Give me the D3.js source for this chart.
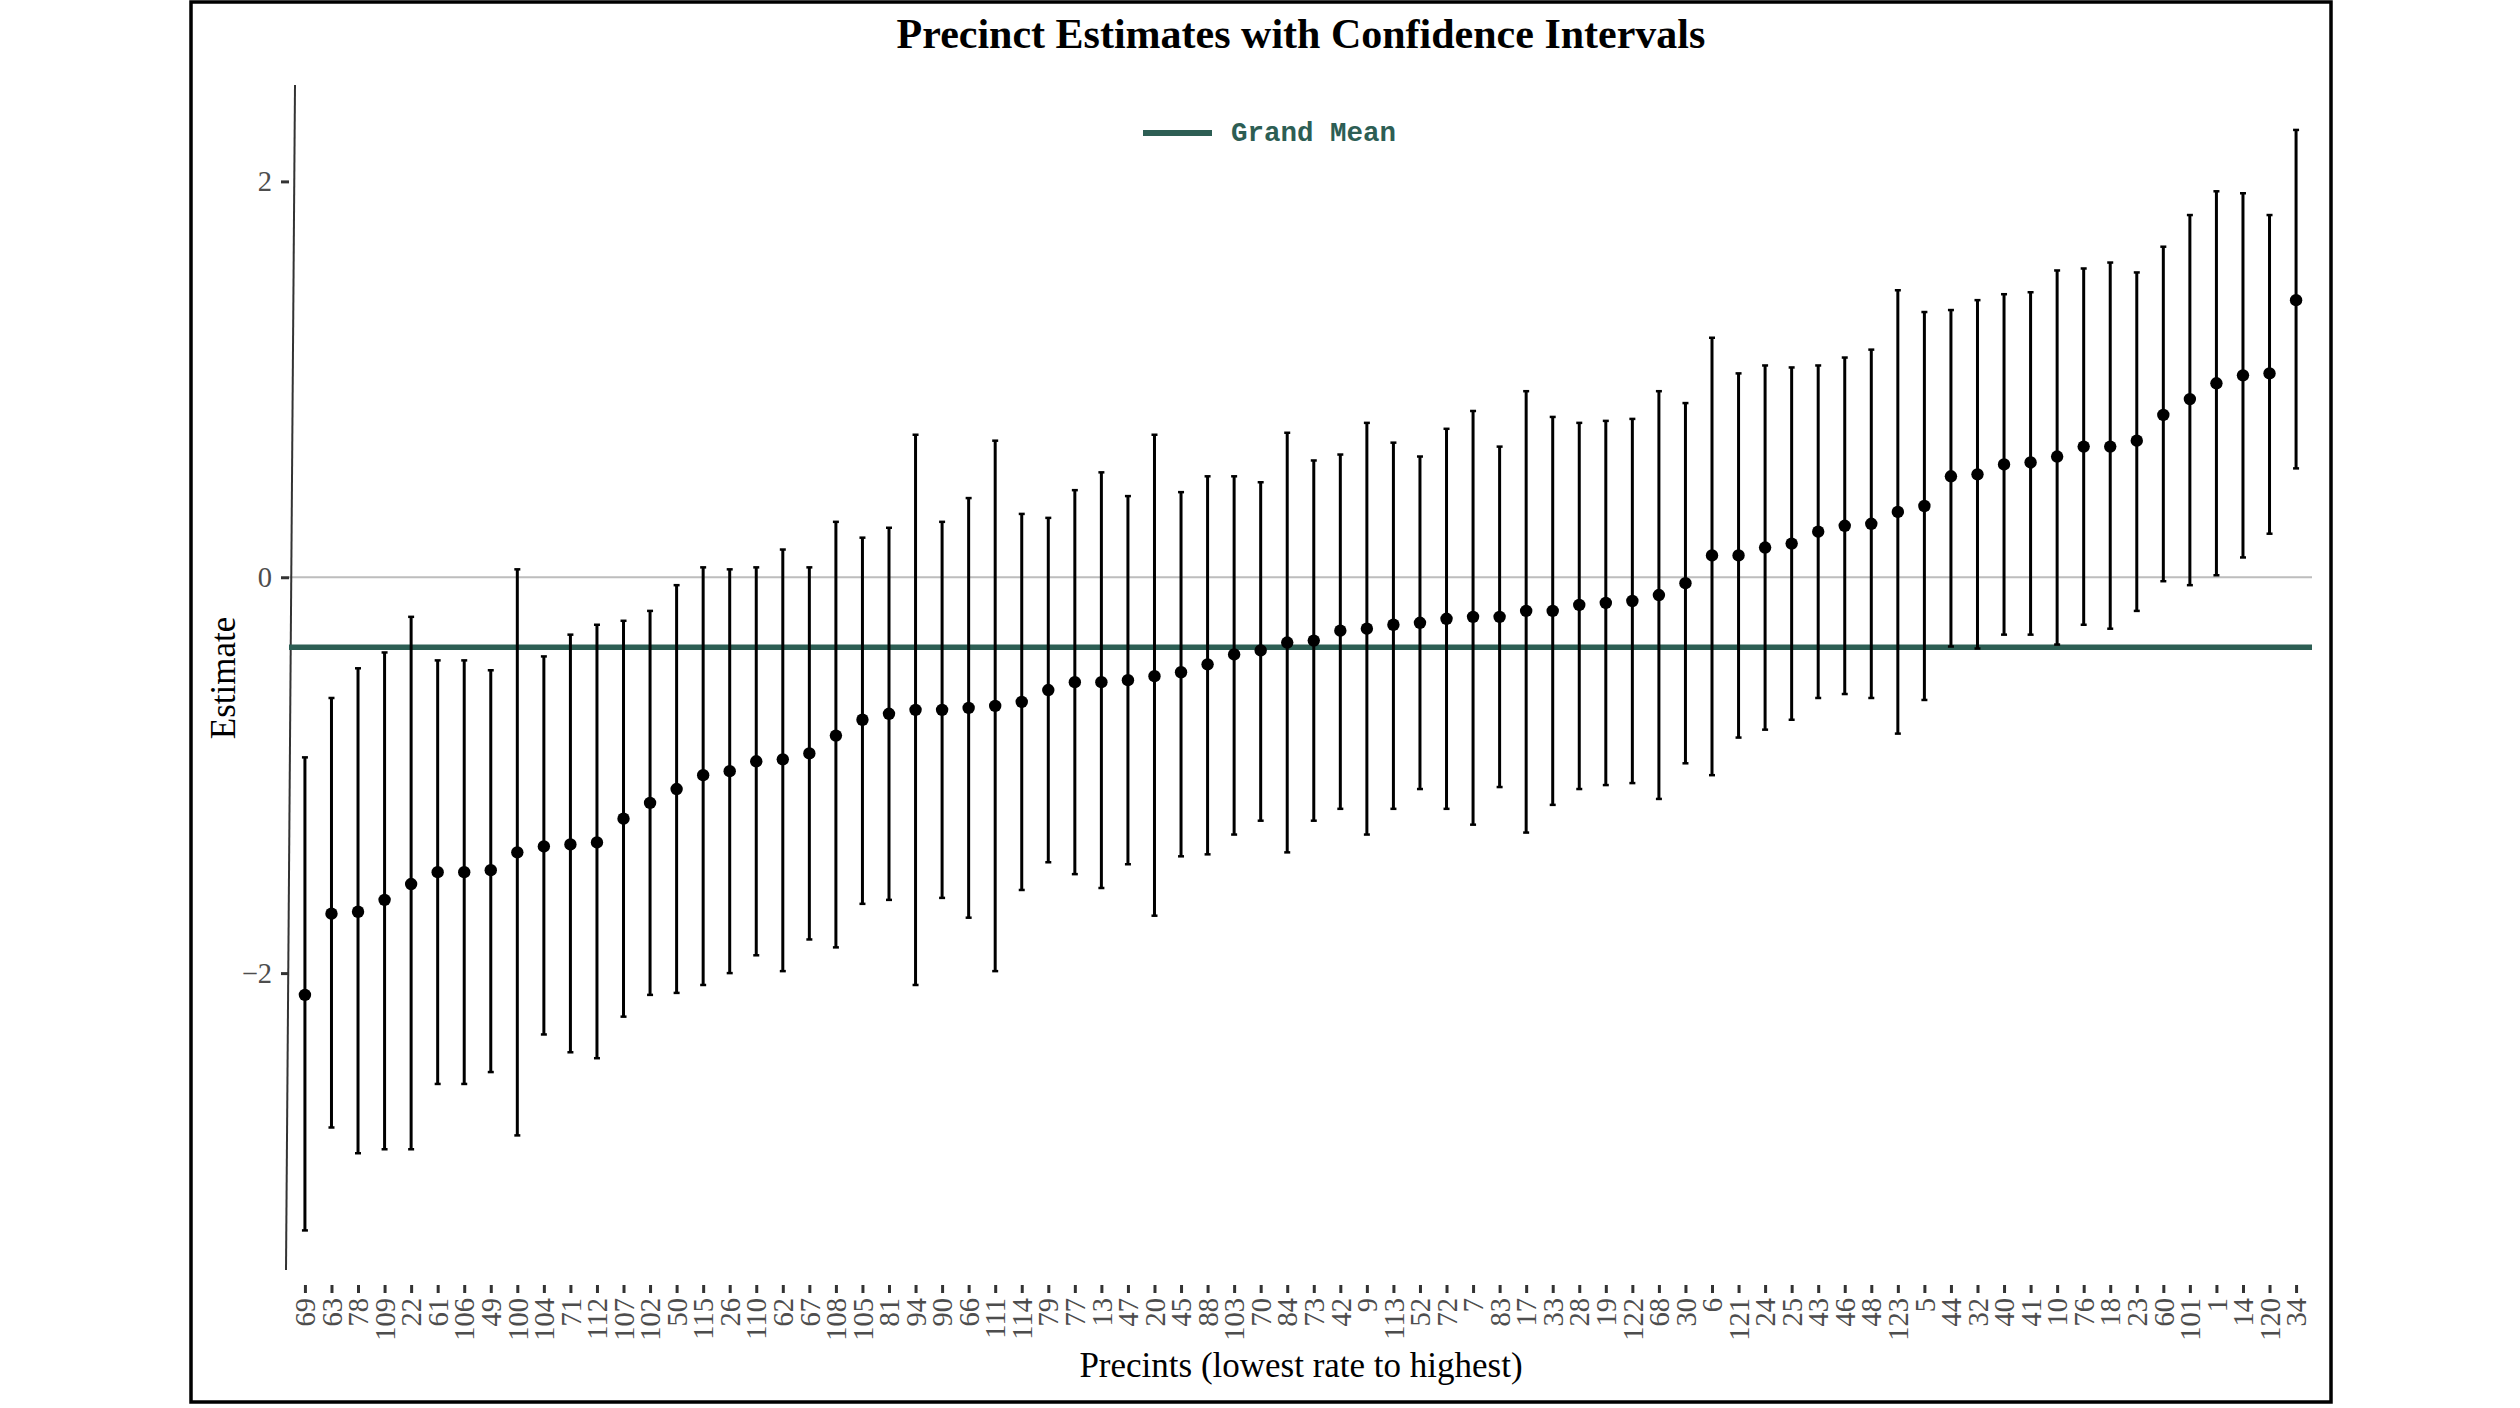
<!DOCTYPE html>
<html>
<head>
<meta charset="utf-8">
<script src="https://cdn.jsdelivr.net/npm/d3@7"></script>
<style>
  body { margin: 0; background: #fff; }
  text { font-family: "Liberation Serif", "Times New Roman", serif; }
</style>
</head>
<body>
<svg id="chart" width="2520" height="1408"></svg>
<script>
// precincts ordered from lowest estimate to highest
var precincts = ["69","63","78","109","22","61","106","49","100","104","71","112","107","102","50","115","26","110","62","67",
  "108","105","81","94","90","66","111","114","79","77","13","47","20","45","88","103","70","84","73","42",
  "9","113","52","72","7","83","17","33","28","19","122","68","30","6","121","24","25","43","46","48",
  "123","5","44","32","40","41","10","76","18","23","60","101","1","14","120","34"];

var estimates = [-2.11,-1.70,-1.69,-1.63,-1.55,-1.49,-1.49,-1.48,-1.39,-1.36,-1.35,-1.34,-1.22,-1.14,-1.07,-1.00,-0.98,-0.93,-0.92,-0.89,
  -0.80,-0.72,-0.69,-0.67,-0.67,-0.66,-0.65,-0.63,-0.57,-0.53,-0.53,-0.52,-0.50,-0.48,-0.44,-0.39,-0.37,-0.33,-0.32,-0.27,
  -0.26,-0.24,-0.23,-0.21,-0.20,-0.20,-0.17,-0.17,-0.14,-0.13,-0.12,-0.09,-0.03,0.11,0.11,0.15,0.17,0.23,0.26,0.27,
  0.33,0.36,0.51,0.52,0.57,0.58,0.61,0.66,0.66,0.69,0.82,0.90,0.98,1.02,1.03,1.40];

var upper = [-0.91,-0.61,-0.46,-0.38,-0.20,-0.42,-0.42,-0.47,0.04,-0.40,-0.29,-0.24,-0.22,-0.17,-0.04,0.05,0.04,0.05,0.14,0.05,
  0.28,0.20,0.25,0.72,0.28,0.40,0.69,0.32,0.30,0.44,0.53,0.41,0.72,0.43,0.51,0.51,0.48,0.73,0.59,0.62,
  0.78,0.68,0.61,0.75,0.84,0.66,0.94,0.81,0.78,0.79,0.80,0.94,0.88,1.21,1.03,1.07,1.06,1.07,1.11,1.15,
  1.45,1.34,1.35,1.40,1.43,1.44,1.55,1.56,1.59,1.54,1.67,1.83,1.95,1.94,1.83,2.26];

var lower = [-3.30,-2.78,-2.91,-2.89,-2.89,-2.56,-2.56,-2.50,-2.82,-2.31,-2.40,-2.43,-2.22,-2.11,-2.10,-2.06,-2.00,-1.91,-1.99,-1.83,
  -1.87,-1.65,-1.63,-2.06,-1.62,-1.72,-1.99,-1.58,-1.44,-1.50,-1.57,-1.45,-1.71,-1.41,-1.40,-1.30,-1.23,-1.39,-1.23,-1.17,
  -1.30,-1.17,-1.07,-1.17,-1.25,-1.06,-1.29,-1.15,-1.07,-1.05,-1.04,-1.12,-0.94,-1.00,-0.81,-0.77,-0.72,-0.61,-0.59,-0.61,
  -0.79,-0.62,-0.35,-0.36,-0.29,-0.29,-0.34,-0.24,-0.26,-0.17,-0.02,-0.04,0.01,0.10,0.22,0.55];

var yTicks = [-2, 0, 2];
var grandMean = -0.354;

var svg = d3.select("#chart");
var green = "#2d5e54";
var panel = { left: 289, right: 2312, top: 85, bottom: 1270 };

var rows = precincts.map(function(p, i) {
  return { name: p, est: estimates[i], lo: lower[i], hi: upper[i] };
});

var x = d3.scalePoint()
  .domain(precincts)
  .range([panel.left, panel.right])
  .padding(0.6);

var y = d3.scaleLinear()
  .domain([-3.5, 2.487])
  .range([panel.bottom, panel.top]);

svg.append("rect")
  .attr("width", 2520).attr("height", 1408)
  .attr("fill", "#fff");

// outer frame
svg.append("rect")
  .attr("x", 191).attr("y", 2)
  .attr("width", 2140).attr("height", 1400)
  .attr("fill", "none")
  .attr("stroke", "#000")
  .attr("stroke-width", 3.5);

svg.append("text")
  .attr("x", 1301).attr("y", 48)
  .attr("text-anchor", "middle")
  .style("font-size", "42px")
  .style("font-weight", "bold")
  .text("Precinct Estimates with Confidence Intervals");

// zero reference
svg.append("line")
  .attr("x1", panel.left).attr("x2", panel.right)
  .attr("y1", y(0)).attr("y2", y(0))
  .attr("stroke", "#bdbdbd")
  .attr("stroke-width", 2);

// y axis line (drawn slightly leaning, as in the original)
svg.append("line")
  .attr("x1", panel.left + 6).attr("y1", panel.top)
  .attr("x2", panel.left - 3).attr("y2", panel.bottom)
  .attr("stroke", "#333")
  .attr("stroke-width", 2);

var yAxis = d3.axisLeft(y)
  .tickValues(yTicks)
  .tickSize(8)
  .tickPadding(9)
  .tickFormat(d3.format("d"));

var gy = svg.append("g")
  .attr("transform", "translate(" + panel.left + ",0)")
  .call(yAxis);
gy.select(".domain").remove();
gy.selectAll(".tick line").attr("stroke", "#333").attr("stroke-width", 3);
gy.selectAll(".tick text")
  .attr("fill", "#4d4d4d")
  .style("font-size", "28.5px")
  .style("font-family", "Liberation Serif");

var xAxis = d3.axisBottom(x)
  .tickSize(8)
  .tickPadding(6);

var gx = svg.append("g")
  .attr("transform", "translate(0," + (panel.bottom + 15) + ")")
  .call(xAxis);
gx.select(".domain").remove();
gx.selectAll(".tick line").attr("stroke", "#333").attr("stroke-width", 3);
gx.selectAll(".tick text")
  .attr("fill", "#4d4d4d")
  .style("font-size", "28.5px")
  .style("font-family", "Liberation Serif")
  .attr("text-anchor", "end")
  .attr("transform", "rotate(-90)")
  .attr("x", -13)
  .attr("y", 0)
  .attr("dy", "0.34em");

// grand mean
svg.append("line")
  .attr("x1", panel.left).attr("x2", panel.right)
  .attr("y1", y(grandMean)).attr("y2", y(grandMean))
  .attr("stroke", green)
  .attr("stroke-width", 5.5);

var bars = svg.append("g").selectAll("g")
  .data(rows)
  .enter().append("g");

bars.append("line")
  .attr("x1", function(d) { return x(d.name); })
  .attr("x2", function(d) { return x(d.name); })
  .attr("y1", function(d) { return y(d.lo); })
  .attr("y2", function(d) { return y(d.hi); })
  .attr("stroke", "#000")
  .attr("stroke-width", 3);

["lo", "hi"].forEach(function(k) {
  bars.append("line")
    .attr("x1", function(d) { return x(d.name) - 3; })
    .attr("x2", function(d) { return x(d.name) + 3; })
    .attr("y1", function(d) { return y(d[k]); })
    .attr("y2", function(d) { return y(d[k]); })
    .attr("stroke", "#000")
    .attr("stroke-width", 2.5);
});

bars.append("circle")
  .attr("cx", function(d) { return x(d.name); })
  .attr("cy", function(d) { return y(d.est); })
  .attr("r", 6.2)
  .attr("fill", "#000");

// legend
var legend = svg.append("g").attr("transform", "translate(1143,133)");
legend.append("line")
  .attr("x1", 0).attr("x2", 69)
  .attr("stroke", green)
  .attr("stroke-width", 6);
legend.append("text")
  .attr("x", 88).attr("dy", "0.3em")
  .attr("fill", green)
  .style("font-family", "Liberation Mono, Courier New, monospace")
  .style("font-weight", "bold")
  .style("font-size", "27.5px")
  .text("Grand Mean");

svg.append("text")
  .attr("transform", "translate(235,678) rotate(-90)")
  .attr("text-anchor", "middle")
  .style("font-size", "35px")
  .text("Estimate");

svg.append("text")
  .attr("x", 1301).attr("y", 1377)
  .attr("text-anchor", "middle")
  .style("font-size", "35px")
  .text("Precints (lowest rate to highest)");
</script>
</body>
</html>
